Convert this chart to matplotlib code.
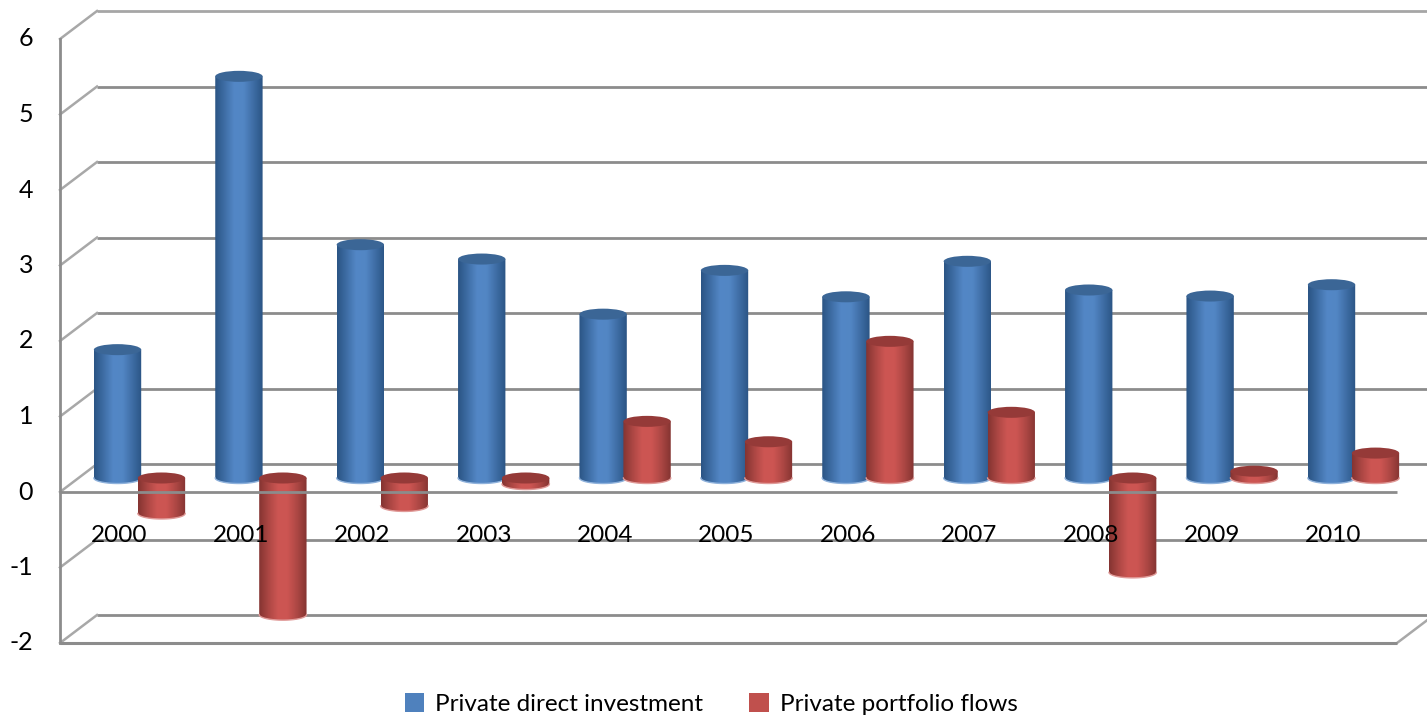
import numpy as np
import matplotlib
matplotlib.use("Agg")
import matplotlib.pyplot as plt
from matplotlib.colors import LinearSegmentedColormap
from matplotlib.patches import Ellipse, Patch, PathPatch
from matplotlib.path import Path

plt.rcParams['font.family'] = ['Lato', 'DejaVu Sans']

years = ['2000', '2001', '2002', '2003', '2004', '2005', '2006', '2007', '2008', '2009', '2010']
direct = [1.70, 5.32, 3.09, 2.90, 2.17, 2.75, 2.40, 2.87, 2.49, 2.41, 2.56]
portfolio = [-0.47, -1.81, -0.37, -0.08, 0.75, 0.48, 1.81, 0.87, -1.25, 0.09, 0.33]
yticks = [-2, -1, 0, 1, 2, 3, 4, 5, 6]

W, H = 1427, 721
# pixels per category and per unit, and where 0 of the bars sits
px_cat = 121.4
px_val = 75.5
x0_px = 139.5
y0_px = 478.0

bar_w = 0.39
bar_off = 0.181
cap_h = 0.146
dx = 18.5 / px_cat
dy = 14.0 / px_val

fig = plt.figure(figsize=(W / 100, H / 100), dpi=100)
ax = fig.add_axes([0, 0, 1, 1])
ax.set_xlim(-x0_px / px_cat, (W - x0_px) / px_cat)
ax.set_ylim((y0_px - H) / px_val, y0_px / px_val)
ax.axis('off')

left = (60 - x0_px) / px_cat
right = (1397 - x0_px) / px_cat
grey = '#8c8c8c'
side = '#a8a8a8'

# back wall gridlines and the short lines on the side wall
for v in yticks:
    ax.plot([left + 2 * dx, right + 2 * dx], [v + dy, v + dy], color=grey if v != 6 else '#a6a6a6',
            lw=2.0, zorder=1, solid_capstyle='butt')
    ax.plot([left, left + 2 * dx], [v - dy, v + dy], color=side, lw=1.8, zorder=1)
ax.plot([left, left], [-2 - dy, 6 - dy], color=grey, lw=2.0, zorder=1)
ax.plot([right, right + 2 * dx], [-2 - dy, -2 + dy], color=side, lw=1.8, zorder=1)

blue_map = LinearSegmentedColormap.from_list('b', ['#2b5585', '#3f6ea6', '#5387c6', '#5286c4', '#3f6ea6', '#2b5585'])
red_map = LinearSegmentedColormap.from_list('r', ['#853432', '#ad4744', '#cd5653', '#cc5552', '#ad4744', '#853432'])
grad = np.linspace(0, 1, 64).reshape(1, -1)


def cylinders(values, off, cmap, cap, rim, z):
    centers = np.arange(len(values)) + off
    bars = ax.bar(centers, values, width=bar_w, color='none', linewidth=0, zorder=z)
    t = np.linspace(0, np.pi, 40)
    for bar, v in zip(bars, values):
        a = bar.get_x()
        b = a + bar.get_width()
        c = (a + b) / 2
        top = max(v, 0)
        low = min(v, 0)
        # side of the cylinder, with a rounded lower edge
        xs = np.concatenate([[a], c - np.cos(t) * bar_w / 2, [b]])
        ys = np.concatenate([[top], low - np.sin(t) * cap_h / 2, [top]])
        clip = PathPatch(Path(np.column_stack([xs, ys])), transform=ax.transData)
        im = ax.imshow(grad, cmap=cmap, extent=[a, b, low - cap_h, top], aspect='auto', zorder=z)
        im.set_clip_path(clip)
        ax.plot(c - np.cos(t) * bar_w / 2, low - np.sin(t) * cap_h / 2, color=rim, lw=1.0, zorder=z + 0.1)
        ax.add_patch(Ellipse((c, top), bar_w, cap_h, facecolor=cap, edgecolor='none', zorder=z + 0.2))


cylinders(direct, -bar_off, blue_map, '#3b6696', '#8fb2dc', 3)
cylinders(portfolio, bar_off, red_map, '#953a38', '#e09a98', 4)
ax.set_xlim(-x0_px / px_cat, (W - x0_px) / px_cat)
ax.set_ylim((y0_px - H) / px_val, y0_px / px_val)

# front lines of the floor and of zero run over the bars
ax.plot([left, right], [-dy, -dy], color=grey, lw=2.0, zorder=6, solid_capstyle='butt')
ax.plot([left, right], [-2 - dy, -2 - dy], color=grey, lw=2.2, zorder=6, solid_capstyle='butt')

for v in yticks:
    ax.text((33 - x0_px) / px_cat, v - dy, str(v), ha='right', va='center', fontsize=18, color='black', zorder=7)
for i, y in enumerate(years):
    ax.text(i - 20 / px_cat, -0.755, y, ha='center', va='center', fontsize=17.5, color='black', zorder=7)

handles = [Patch(facecolor='#4f81bd', label='Private direct investment'),
           Patch(facecolor='#c0504d', label='Private portfolio flows')]
fig.legend(handles=handles, loc='center', bbox_to_anchor=(711 / W, 1 - 704 / H), ncol=2, frameon=False,
           fontsize=17.5, handlelength=0.8, handleheight=0.8, handletextpad=0.45, columnspacing=1.9)

fig.savefig('out.png', dpi=100)
